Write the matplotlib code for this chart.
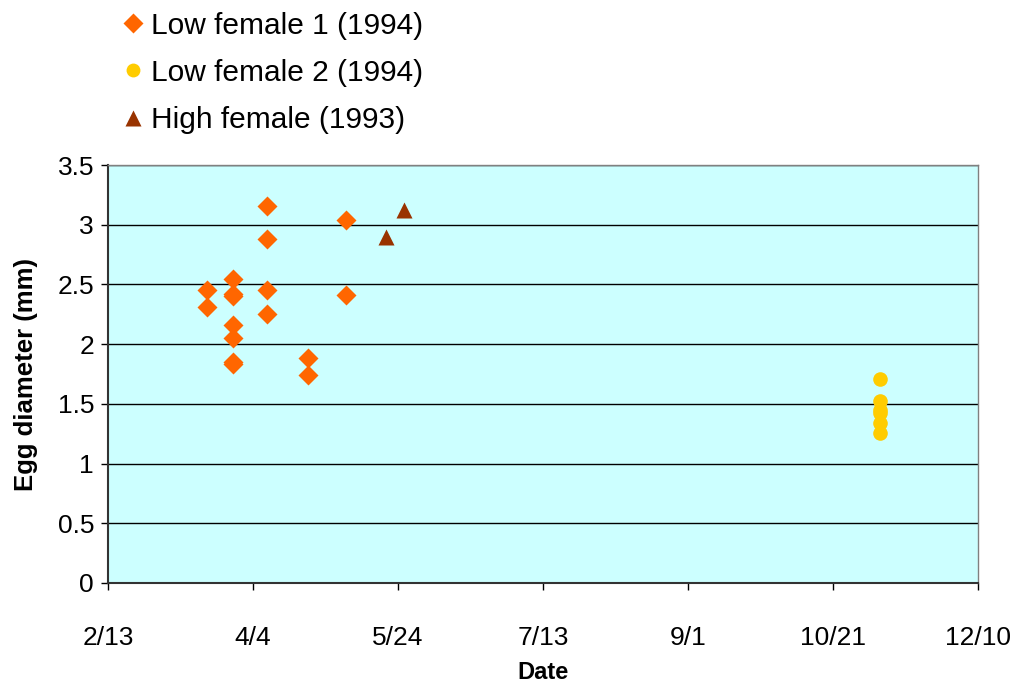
import pandas as pd
import matplotlib.pyplot as plt
import matplotlib.dates as mdates

plt.rcParams['font.family'] = ['Liberation Sans', 'DejaVu Sans']

# Low female 1 (1994)
low1_dates = ['1994-03-19', '1994-03-19',
              '1994-03-28', '1994-03-28', '1994-03-28', '1994-03-28', '1994-03-28', '1994-03-28', '1994-03-28',
              '1994-04-09', '1994-04-09', '1994-04-09', '1994-04-09',
              '1994-04-23', '1994-04-23',
              '1994-05-06', '1994-05-06']
low1_diam = [2.45, 2.31,
             2.55, 2.42, 2.40, 2.16, 2.05, 1.85, 1.83,
             3.16, 2.88, 2.45, 2.25,
             1.88, 1.74,
             3.04, 2.41]

# Low female 2 (1994)
low2_dates = ['1994-11-06'] * 6
low2_diam = [1.71, 1.52, 1.45, 1.42, 1.34, 1.26]

# High female (1993)
high_dates = ['1994-05-20', '1994-05-26']
high_diam = [2.90, 3.12]

tick_dates = pd.date_range('1994-02-13', periods=7, freq='50D')

fig = plt.figure(figsize=(10.18, 6.85), dpi=100)
ax = fig.add_axes([0.106, 0.149, 0.855, 0.61])
ax.set_facecolor('#CCFFFF')

ax.plot(pd.to_datetime(low1_dates), low1_diam, 'D', color='#FF6600', ms=10.5, mec='none',
        label='Low female 1 (1994)', zorder=3)
ax.plot(pd.to_datetime(low2_dates), low2_diam, 'o', color='#FFCC00', ms=10.5, mec='none',
        label='Low female 2 (1994)', zorder=3)
ax.plot(pd.to_datetime(high_dates), high_diam, '^', color='#993300', ms=11.5, mec='none',
        label='High female (1993)', zorder=3)

ax.set_xlim(tick_dates[0], tick_dates[-1])
ax.set_ylim(0, 3.5)
ax.set_xticks(tick_dates)
ax.xaxis.set_major_formatter(mdates.DateFormatter('%-m/%-d'))
ax.set_yticks([0, 0.5, 1, 1.5, 2, 2.5, 3, 3.5])
ax.set_yticklabels(['0', '0.5', '1', '1.5', '2', '2.5', '3', '3.5'])
ax.yaxis.grid(True, color='black', lw=1)
ax.set_axisbelow(True)

for s in ['top', 'right']:
    ax.spines[s].set_color('#808080')
    ax.spines[s].set_linewidth(1)
for s in ['left', 'bottom']:
    ax.spines[s].set_color('#333333')
    ax.spines[s].set_linewidth(1.5)

ax.tick_params(axis='x', labelsize=19, length=5, width=1, pad=26)
ax.tick_params(axis='y', labelsize=19, length=5, width=1, pad=5)

ax.set_xlabel('Date', fontsize=17, fontweight='bold', labelpad=8)
ax.set_ylabel('Egg diameter (mm)', fontsize=18.5, fontweight='bold', labelpad=14)

fig.legend(loc='upper left', bbox_to_anchor=(0.107, 1.005), frameon=False, fontsize=21.5,
           handlelength=0.6, handletextpad=0.3, labelspacing=0.65, borderaxespad=0.1,
           markerscale=0.95)

fig.savefig('out.png', dpi=100)
